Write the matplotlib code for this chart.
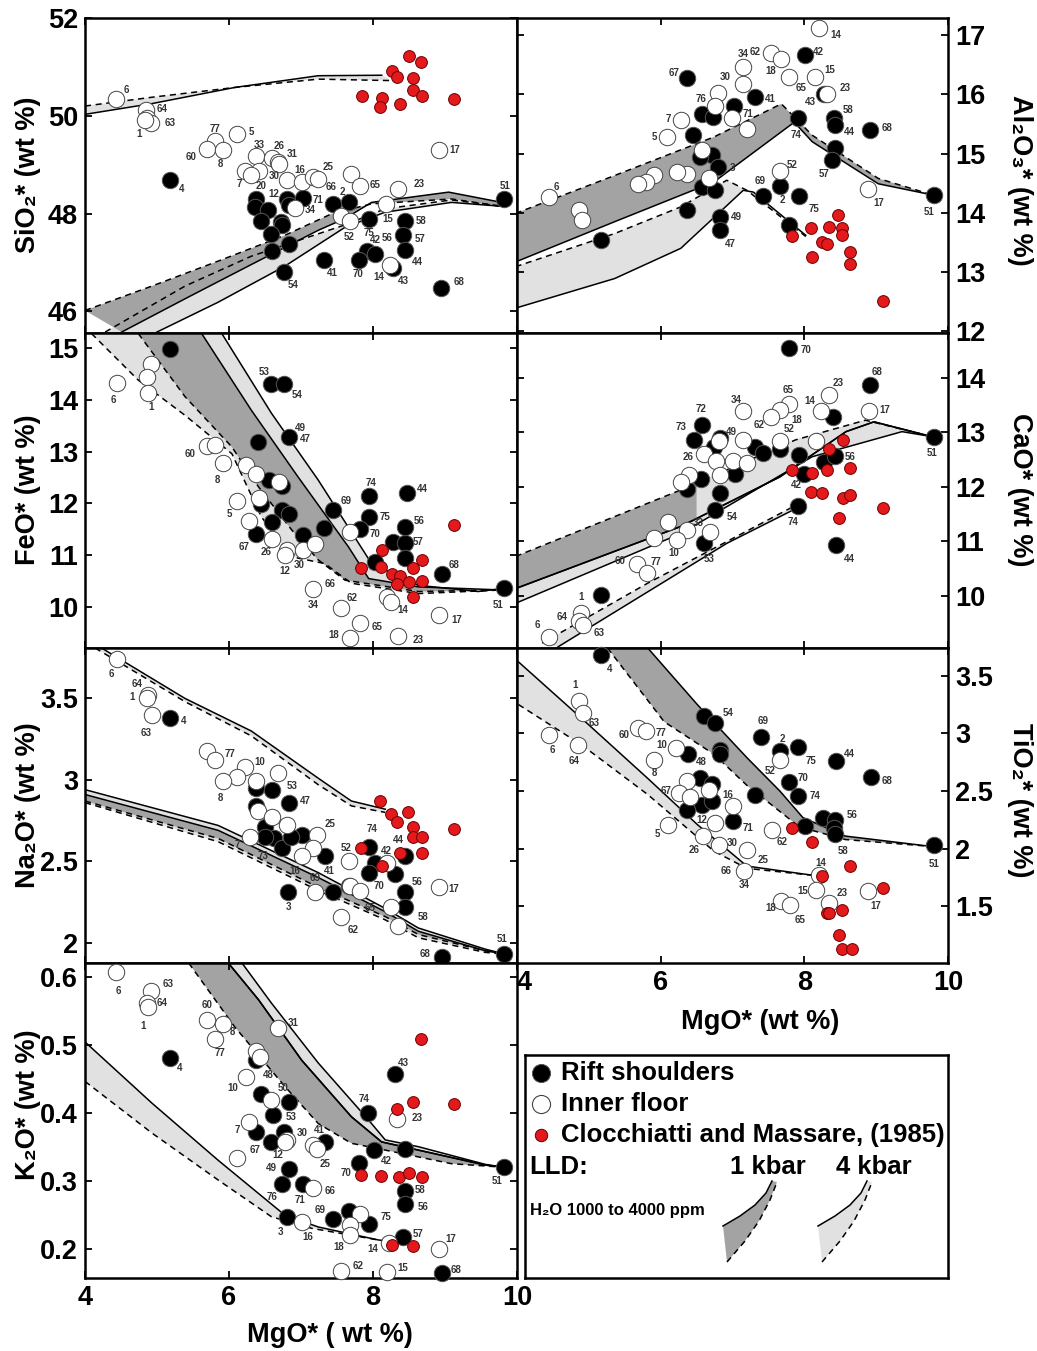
import numpy as np
import matplotlib
matplotlib.use("Agg")
import matplotlib.pyplot as plt

plt.rcParams["font.family"] = ["Liberation Sans", "DejaVu Sans"]
plt.rcParams["font.weight"] = "bold"

DARK = "#a3a3a3"
LIGHT = "#e1e1e1"
RED = "#e3191c"

# ---------------- SiO2 panel ----------------
SIO2_BLACK = [(5.18, 48.69), (6.37, 48.30), (6.36, 48.13), (6.54, 48.08), (6.45, 47.85), (6.72, 47.83),
              (6.74, 47.77), (6.58, 47.58), (6.83, 47.38), (6.60, 47.23), (6.80, 48.30), (6.83, 48.18),
              (7.03, 48.32), (7.44, 48.20), (7.67, 48.23), (7.94, 47.90), (7.91, 47.23), (8.03, 47.18),
              (7.32, 47.06), (7.80, 47.06), (6.76, 46.81), (8.44, 47.85), (8.42, 47.56), (8.45, 47.26),
              (8.28, 46.89), (8.95, 46.49), (9.82, 48.29)]
SIO2_WHITE = [(4.43, 50.35), (4.85, 50.11), (4.86, 49.95), (4.92, 49.86), (4.83, 49.91), (5.81, 49.48),
              (5.69, 49.33), (5.91, 49.31), (6.11, 49.62), (6.38, 49.17), (6.60, 49.13), (6.68, 49.06),
              (6.69, 49.01), (6.22, 48.87), (6.41, 48.87), (6.30, 48.80), (6.80, 48.69), (7.01, 48.64),
              (7.17, 48.74), (7.23, 48.71), (7.69, 48.81), (7.82, 48.57), (8.35, 48.50), (8.18, 48.20),
              (6.92, 48.12), (7.56, 47.95), (7.68, 47.85), (8.24, 46.96), (8.91, 49.30)]
SIO2_RED = [(8.50, 51.22), (8.67, 51.10), (8.26, 50.92), (8.34, 50.79), (8.56, 50.77), (8.56, 50.53),
            (8.68, 50.40), (7.85, 50.40), (8.13, 50.36), (8.10, 50.18), (8.38, 50.25), (9.12, 50.35)]
SIO2_LABELS = [("6", 4.58, 50.52), ("64", 5.07, 50.13), ("63", 5.18, 49.86), ("1", 4.75, 49.62),
               ("77", 5.80, 49.73), ("5", 6.31, 49.66), ("60", 5.48, 49.15), ("8", 5.88, 49.02),
               ("33", 6.42, 49.41), ("26", 6.69, 49.38), ("31", 6.88, 49.21), ("16", 6.99, 48.89),
               ("25", 7.38, 48.95), ("7", 6.14, 48.60), ("30", 6.63, 48.77), ("20", 6.44, 48.56),
               ("12", 6.62, 48.40), ("71", 7.23, 48.27), ("66", 7.42, 48.55), ("2", 7.57, 48.44),
               ("34", 7.13, 48.07), ("65", 8.03, 48.58), ("23", 8.64, 48.60), ("51", 9.83, 48.57),
               ("17", 9.13, 49.30), ("4", 5.34, 48.50), ("15", 8.21, 47.90), ("58", 8.67, 47.85),
               ("52", 7.67, 47.52), ("75", 7.94, 47.61), ("42", 8.03, 47.46), ("56", 8.19, 47.50),
               ("57", 8.65, 47.48), ("44", 8.61, 47.01), ("41", 7.43, 46.78), ("70", 7.79, 46.76),
               ("14", 8.08, 46.71), ("43", 8.42, 46.62), ("54", 6.89, 46.54), ("68", 9.19, 46.60)]
SIO2_TOP_SOLID = [(4.0, 50.03), (4.93, 50.25), (6.08, 50.58), (7.24, 50.82), (8.12, 50.83)]
SIO2_TOP_DASH = [(4.0, 50.20), (4.93, 50.38), (6.08, 50.58), (7.24, 50.75), (8.26, 50.72)]
SIO2_1K_DASH = [(4.0, 46.02), (4.93, 46.52), (5.85, 47.03), (6.78, 47.56), (7.43, 48.0), (7.98, 48.20),
                (9.09, 48.30), (9.79, 48.15)]
SIO2_1K_SOLID = [(4.51, 45.58), (5.39, 46.26), (6.31, 46.96), (7.24, 47.66), (7.61, 47.90), (7.98, 48.23),
                 (9.05, 48.44), (9.79, 48.23)]
SIO2_4K_DASH = [(4.28, 45.58), (5.39, 46.52), (6.31, 47.13), (7.61, 47.77), (8.17, 48.10), (9.09, 48.28),
                (9.79, 48.15)]
SIO2_4K_SOLID = [(5.0, 45.58), (5.85, 46.19), (6.78, 46.93), (7.61, 47.72), (8.17, 48.03), (9.09, 48.23),
                 (9.79, 48.15)]

# ---------------- Al2O3 panel ----------------
AL_BLACK = [(6.37, 16.28), (8.01, 16.66), (7.32, 15.96), (7.02, 15.80), (6.57, 15.67), (6.73, 15.62),
            (6.45, 15.32), (6.71, 14.97), (6.55, 14.94), (6.80, 14.78), (6.57, 14.44), (6.76, 14.38),
            (6.37, 14.04), (5.17, 13.54), (6.82, 13.93), (6.83, 13.71), (7.43, 14.29), (7.66, 14.46),
            (7.92, 14.29), (7.78, 13.80), (7.91, 15.60), (8.41, 15.60), (8.43, 15.49), (8.43, 15.10),
            (8.39, 14.90), (8.92, 15.39), (9.81, 14.30), (8.27, 16.00)]
AL_WHITE = [(8.21, 17.12), (7.54, 16.70), (7.68, 16.59), (7.15, 16.46), (7.15, 16.18), (6.80, 16.03),
            (6.76, 15.81), (6.99, 15.60), (7.20, 15.41), (6.28, 15.56), (6.09, 15.28), (7.79, 16.29),
            (8.15, 16.29), (8.32, 16.01), (6.57, 15.06), (6.67, 14.58), (6.37, 14.65), (6.23, 14.69),
            (5.91, 14.63), (5.79, 14.52), (5.68, 14.49), (7.66, 14.70), (4.44, 14.27), (4.87, 14.04),
            (4.90, 13.88), (8.89, 14.41)]
AL_RED = [(8.47, 13.97), (8.09, 13.74), (8.35, 13.76), (8.53, 13.75), (8.53, 13.62), (7.83, 13.60),
          (8.24, 13.50), (8.31, 13.48), (8.11, 13.26), (8.64, 13.33), (8.64, 13.13), (9.09, 12.51)]
AL_LABELS = [("14", 8.44, 17.01), ("34", 7.15, 16.69), ("62", 7.32, 16.72), ("42", 8.20, 16.71),
             ("18", 7.53, 16.39), ("15", 8.36, 16.42), ("67", 6.18, 16.36), ("30", 6.90, 16.29),
             ("65", 7.95, 16.10), ("23", 8.57, 16.11), ("76", 6.56, 15.93), ("41", 7.52, 15.92),
             ("43", 8.09, 15.87), ("58", 8.61, 15.73), ("7", 6.11, 15.59), ("71", 7.22, 15.67),
             ("68", 9.15, 15.43), ("44", 8.63, 15.37), ("5", 5.91, 15.28), ("74", 7.89, 15.31),
             ("52", 7.83, 14.80), ("3", 7.00, 14.75), ("57", 8.28, 14.65), ("69", 7.38, 14.53),
             ("6", 4.55, 14.44), ("2", 7.69, 14.21), ("17", 9.03, 14.16), ("75", 8.14, 14.06),
             ("51", 9.73, 14.02), ("49", 7.05, 13.93), ("47", 6.97, 13.47)]
AL_1K_DASH = [(3.98, 13.99), (5.36, 14.63), (6.74, 15.28), (7.68, 15.84), (8.11, 15.31), (9.03, 14.58),
              (9.79, 14.30)]
AL_1K_SOLID = [(3.98, 13.17), (5.36, 13.85), (6.74, 14.52), (7.86, 15.53), (8.11, 15.20), (9.03, 14.49),
               (9.79, 14.30)]
AL_4K_DASH = [(3.98, 13.09), (5.36, 13.65), (6.28, 14.10), (6.92, 14.55), (7.20, 14.38), (8.02, 13.60)]
AL_4K_SOLID = [(3.98, 12.39), (5.36, 12.89), (6.28, 13.40), (7.15, 14.38), (7.29, 14.35), (8.02, 13.62)]

# ---------------- FeO panel ----------------
FEO_BLACK = [(5.18, 14.99), (6.59, 14.30), (6.77, 14.30), (6.83, 13.29), (6.40, 13.18), (6.55, 12.46),
             (6.73, 12.33), (6.45, 11.99), (6.73, 11.88), (6.83, 11.79), (6.60, 11.65), (6.38, 11.41),
             (7.03, 11.39), (7.32, 11.53), (7.45, 11.88), (7.94, 12.14), (7.94, 11.74), (7.82, 11.50),
             (8.28, 11.25), (8.44, 11.23), (8.45, 11.55), (8.47, 12.21), (8.44, 10.94), (8.03, 10.87),
             (8.96, 10.63), (9.82, 10.36)]
FEO_WHITE = [(4.44, 14.32), (4.92, 14.70), (4.86, 14.44), (4.88, 14.14), (5.69, 13.11), (5.81, 13.13),
             (5.92, 12.78), (6.23, 12.75), (6.37, 12.57), (6.69, 12.42), (6.41, 12.10), (6.11, 12.05),
             (6.28, 11.66), (6.60, 11.31), (6.80, 11.11), (6.78, 11.00), (7.03, 11.11), (7.20, 11.21),
             (7.68, 11.44), (7.17, 10.34), (7.56, 9.99), (7.82, 9.70), (7.68, 9.41), (8.19, 10.19),
             (8.25, 10.10), (8.35, 9.44), (8.92, 9.85)]
FEO_RED = [(9.12, 11.59), (8.13, 11.11), (8.68, 10.91), (7.84, 10.75), (8.11, 10.77), (8.56, 10.75),
           (8.26, 10.64), (8.38, 10.60), (8.68, 10.51), (8.33, 10.44), (8.50, 10.48), (8.56, 10.20)]
FEO_LABELS = [("6", 4.39, 13.99), ("1", 4.92, 13.86), ("53", 6.49, 14.54), ("54", 6.94, 14.10),
              ("49", 6.99, 13.45), ("47", 7.06, 13.25), ("60", 5.46, 12.95), ("8", 5.84, 12.46),
              ("5", 6.01, 11.79), ("69", 7.62, 12.05), ("74", 7.98, 12.39), ("44", 8.69, 12.28),
              ("75", 8.16, 11.73), ("56", 8.64, 11.67), ("70", 8.03, 11.42), ("57", 8.63, 11.26),
              ("67", 6.21, 11.16), ("26", 6.52, 11.07), ("30", 6.97, 10.81), ("12", 6.78, 10.70),
              ("68", 9.13, 10.82), ("66", 7.40, 10.44), ("51", 9.74, 10.04), ("34", 7.17, 10.04),
              ("62", 7.71, 10.18), ("14", 8.41, 9.94), ("17", 9.16, 9.76), ("65", 8.06, 9.62),
              ("18", 7.46, 9.46), ("23", 8.63, 9.36)]
FEO_4K_DASH = [(4.09, 15.28), (4.74, 14.38), (5.39, 13.70), (6.04, 12.96), (6.45, 11.74), (6.87, 10.97),
               (7.33, 10.84), (7.70, 10.46), (8.63, 10.26), (9.79, 10.33)]
FEO_4K_SOLID = [(5.90, 15.28), (6.59, 13.74), (7.24, 12.45), (7.98, 10.84), (8.63, 10.42), (9.46, 10.30),
                (9.81, 10.36)]
FEO_1K_DASH = [(4.74, 15.28), (5.39, 14.06), (6.04, 13.09), (6.41, 12.32), (6.87, 11.49), (7.24, 10.91),
               (7.61, 10.52), (8.63, 10.30), (9.79, 10.33)]
FEO_1K_SOLID = [(5.62, 15.28), (6.31, 13.80), (6.96, 12.51), (7.66, 11.16), (7.94, 10.55), (8.63, 10.39),
                (9.79, 10.33)]

# ---------------- CaO panel ----------------
CAO_BLACK = [(7.79, 14.54), (8.92, 13.87), (9.81, 12.92), (8.40, 13.28), (6.57, 13.13), (6.46, 12.86),
             (6.83, 12.89), (6.74, 12.73), (7.32, 12.73), (7.43, 12.62), (7.66, 12.69), (7.92, 12.58),
             (8.28, 12.46), (8.43, 12.56), (8.00, 12.24), (7.03, 12.23), (6.56, 12.15), (6.37, 11.95),
             (6.83, 11.88), (6.76, 11.57), (6.60, 10.96), (7.91, 11.65), (8.44, 10.93), (5.17, 10.01)]
CAO_WHITE = [(7.15, 13.38), (7.78, 13.52), (7.66, 13.41), (7.54, 13.28), (8.35, 13.68), (8.23, 13.38),
             (8.90, 13.38), (7.15, 12.86), (7.66, 12.84), (8.16, 12.83), (6.81, 12.83), (6.60, 12.60),
             (6.77, 12.48), (7.00, 12.48), (7.20, 12.44), (6.82, 12.21), (6.40, 12.21), (6.28, 12.09),
             (6.10, 11.36), (6.37, 11.20), (6.23, 11.02), (6.68, 11.17), (5.91, 11.05), (5.67, 10.59),
             (5.81, 10.41), (4.89, 9.69), (4.86, 9.54), (4.92, 9.46), (4.44, 9.25)]
CAO_RED = [(8.54, 12.86), (8.34, 12.69), (7.83, 12.31), (8.11, 12.26), (8.31, 12.31), (8.64, 12.35),
           (8.09, 11.91), (8.24, 11.88), (8.54, 11.79), (8.64, 11.85), (9.09, 11.60), (8.48, 11.42)]
CAO_LABELS = [("70", 8.02, 14.51), ("68", 9.01, 14.11), ("23", 8.47, 13.91), ("65", 7.77, 13.77),
              ("34", 7.05, 13.59), ("14", 8.07, 13.58), ("72", 6.56, 13.42), ("17", 9.12, 13.41),
              ("18", 7.89, 13.22), ("62", 7.37, 13.14), ("73", 6.28, 13.09), ("52", 7.79, 13.05),
              ("49", 6.99, 13.01), ("51", 9.78, 12.62), ("26", 6.38, 12.54), ("56", 8.64, 12.54),
              ("42", 7.89, 12.03), ("54", 6.99, 11.44), ("74", 7.85, 11.36), ("33", 6.52, 11.33),
              ("60", 5.44, 10.64), ("10", 6.18, 10.78), ("77", 5.93, 10.62), ("53", 6.67, 10.67),
              ("44", 8.63, 10.68), ("1", 4.89, 9.97), ("64", 4.63, 9.61), ("6", 4.29, 9.46),
              ("63", 5.14, 9.31)]
CAO_1K_DASH = [(3.98, 10.72), (6.28, 11.94), (7.88, 12.86), (8.85, 13.22), (9.77, 12.92)]
CAO_1K_SOLID = [(3.98, 10.13), (6.28, 11.27), (7.66, 12.18), (8.58, 13.01), (8.97, 13.19), (9.77, 12.92)]
CAO_UP_SOLID = [(3.98, 9.86), (6.28, 11.14), (8.11, 12.55), (9.36, 13.01), (9.77, 12.92)]
CAO_4K_DASH = [(4.35, 9.13), (5.82, 10.23), (7.84, 11.63)]
CAO_4K_SOLID = [(4.57, 9.06), (6.92, 10.96), (7.84, 11.57)]

# ---------------- Na2O panel ----------------
NA_BLACK = [(5.18, 3.38), (6.37, 2.95), (6.60, 2.94), (6.83, 2.86), (6.38, 2.84), (6.50, 2.71),
            (6.62, 2.64), (6.50, 2.65), (6.73, 2.58), (7.02, 2.66), (6.86, 2.65), (7.33, 2.53),
            (7.94, 2.59), (8.03, 2.49), (7.94, 2.43), (8.31, 2.42), (8.44, 2.53), (6.82, 2.31),
            (7.45, 2.31), (8.45, 2.31), (8.45, 2.22), (7.67, 2.35), (8.96, 1.91), (9.82, 1.93)]
NA_WHITE = [(4.44, 3.74), (4.88, 3.52), (4.86, 3.50), (4.93, 3.40), (5.69, 3.18), (5.81, 3.12),
            (6.22, 3.08), (6.11, 3.02), (5.91, 2.99), (6.68, 3.04), (6.38, 2.99), (6.40, 2.81),
            (6.60, 2.77), (6.80, 2.72), (6.29, 2.65), (7.22, 2.66), (7.17, 2.58), (7.02, 2.53),
            (7.66, 2.50), (7.19, 2.31), (7.68, 2.35), (7.82, 2.32), (8.19, 2.49), (8.91, 2.34),
            (8.25, 2.22), (8.35, 2.10), (7.56, 2.16)]
NA_RED = [(8.10, 2.87), (8.25, 2.79), (8.49, 2.80), (8.34, 2.74), (8.56, 2.71), (8.56, 2.65),
          (8.68, 2.65), (9.12, 2.70), (7.84, 2.58), (8.38, 2.55), (8.68, 2.55), (8.13, 2.47)]
NA_LABELS = [("6", 4.36, 3.65), ("64", 4.72, 3.59), ("1", 4.66, 3.51), ("63", 4.85, 3.29),
             ("4", 5.37, 3.36), ("77", 6.01, 3.16), ("10", 6.43, 3.11), ("8", 5.88, 2.89),
             ("53", 6.88, 2.96), ("47", 7.06, 2.87), ("25", 7.40, 2.73), ("74", 7.99, 2.70),
             ("7", 6.12, 2.60), ("44", 8.35, 2.63), ("52", 7.63, 2.58), ("73", 6.48, 2.53),
             ("42", 8.18, 2.56), ("16", 6.91, 2.44), ("41", 7.39, 2.44), ("69", 7.19, 2.40),
             ("56", 8.61, 2.37), ("70", 8.08, 2.35), ("17", 9.12, 2.33), ("3", 6.83, 2.22),
             ("65", 7.96, 2.21), ("58", 8.69, 2.16), ("62", 7.73, 2.08), ("51", 9.79, 2.02),
             ("68", 8.73, 1.93)]
NA_UP_SOLID = [(4.23, 3.81), (5.39, 3.50), (6.31, 3.30), (7.24, 3.01), (7.70, 2.87), (8.17, 2.82)]
NA_UP_DASH = [(4.14, 3.81), (5.39, 3.48), (6.31, 3.27), (7.24, 2.97), (7.70, 2.84), (8.17, 2.80)]
NA_4K_SOLID = [(4.0, 2.94), (5.85, 2.72), (7.24, 2.43), (8.17, 2.21), (8.63, 2.09), (9.56, 1.96), (9.83, 1.93)]
NA_4K_DASH = [(4.0, 2.86), (5.85, 2.62), (7.24, 2.32), (8.17, 2.14), (8.63, 2.03), (9.56, 1.94), (9.83, 1.93)]
NA_1K_SOLID = [(4.0, 2.91), (5.85, 2.69), (7.24, 2.40), (8.17, 2.19), (8.63, 2.07), (9.56, 1.95), (9.83, 1.93)]
NA_1K_DASH = [(4.0, 2.87), (5.85, 2.64), (7.24, 2.34), (8.17, 2.16), (8.63, 2.05), (9.56, 1.95), (9.83, 1.93)]

# ---------------- TiO2 panel ----------------
TI_BLACK = [(5.17, 3.68), (6.60, 3.15), (6.75, 3.09), (6.83, 2.86), (6.83, 2.82), (7.40, 2.97),
            (7.66, 2.85), (7.91, 2.88), (8.44, 2.76), (8.93, 2.62), (7.78, 2.58), (7.91, 2.46),
            (6.38, 2.82), (6.55, 2.61), (6.71, 2.56), (6.57, 2.38), (6.72, 2.41), (6.37, 2.34),
            (7.01, 2.24), (7.31, 2.47), (8.01, 2.20), (8.26, 2.27), (8.43, 2.25), (8.41, 2.18),
            (8.43, 2.13), (9.81, 2.03)]
TI_WHITE = [(4.87, 3.28), (4.92, 3.18), (4.44, 2.99), (4.85, 2.90), (5.69, 3.05), (5.80, 3.02),
            (6.22, 2.87), (5.91, 2.77), (6.37, 2.59), (6.25, 2.48), (6.41, 2.45), (6.67, 2.51),
            (7.00, 2.37), (7.66, 2.77), (6.76, 2.22), (6.10, 2.21), (6.59, 2.11), (6.81, 2.03),
            (7.20, 1.99), (7.16, 1.81), (7.55, 2.16), (8.20, 1.77), (8.16, 1.64), (8.34, 1.53),
            (8.89, 1.63), (7.68, 1.55), (7.80, 1.51)]
TI_RED = [(7.83, 2.18), (8.11, 2.06), (8.64, 1.85), (8.24, 1.76), (9.09, 1.66), (8.53, 1.47),
          (8.32, 1.44), (8.35, 1.44), (8.48, 1.25), (8.53, 1.13), (8.66, 1.13)]
TI_LABELS = [("4", 5.29, 3.56), ("1", 4.81, 3.42), ("54", 6.94, 3.18), ("69", 7.42, 3.11),
             ("63", 5.08, 3.09), ("60", 5.49, 2.99), ("77", 6.00, 3.00), ("2", 7.69, 2.95),
             ("10", 6.02, 2.90), ("6", 4.49, 2.86), ("44", 8.63, 2.82), ("75", 8.09, 2.76),
             ("64", 4.80, 2.76), ("48", 6.56, 2.75), ("52", 7.52, 2.67), ("8", 5.92, 2.66),
             ("70", 7.98, 2.61), ("68", 9.15, 2.59), ("67", 6.07, 2.50), ("16", 6.94, 2.47),
             ("74", 8.15, 2.46), ("56", 8.66, 2.29), ("12", 6.57, 2.25), ("71", 7.22, 2.18),
             ("5", 5.95, 2.13), ("62", 7.69, 2.06), ("30", 7.00, 2.05), ("26", 6.46, 1.99),
             ("58", 8.54, 1.98), ("25", 7.43, 1.90), ("14", 8.23, 1.88), ("51", 9.81, 1.87),
             ("66", 6.91, 1.81), ("34", 7.17, 1.69), ("15", 7.98, 1.63), ("23", 8.53, 1.62),
             ("17", 8.99, 1.50), ("18", 7.53, 1.49), ("65", 7.94, 1.38)]
TI_1K_DASH = [(5.26, 3.74), (6.05, 3.10), (6.74, 2.82), (7.20, 2.55), (7.93, 2.19), (8.57, 2.08), (9.77, 2.02)]
TI_1K_SOLID = [(5.82, 3.74), (6.51, 3.25), (7.20, 2.79), (7.66, 2.50), (7.98, 2.27), (8.57, 2.11), (9.77, 2.02)]
TI_4K_SOLID = [(4.02, 3.62), (4.90, 3.13), (5.82, 2.61), (6.51, 2.21), (7.20, 1.85), (8.12, 1.77)]
TI_4K_DASH = [(4.02, 3.25), (4.90, 2.90), (5.82, 2.47), (6.74, 1.98), (7.20, 1.83), (8.12, 1.77)]

# ---------------- K2O panel ----------------
K_BLACK = [(5.18, 0.481), (6.37, 0.478), (6.45, 0.428), (6.83, 0.417), (6.61, 0.398), (6.37, 0.372),
           (6.77, 0.373), (6.58, 0.358), (7.33, 0.358), (6.83, 0.318), (6.73, 0.296), (7.03, 0.296),
           (7.93, 0.400), (8.30, 0.458), (8.02, 0.346), (8.45, 0.347), (7.81, 0.327), (8.44, 0.286),
           (8.45, 0.267), (7.67, 0.257), (7.94, 0.238), (7.45, 0.244), (6.81, 0.247), (8.42, 0.218),
           (8.96, 0.165), (9.82, 0.321)]
K_WHITE = [(4.43, 0.608), (4.92, 0.580), (4.86, 0.562), (4.88, 0.557), (5.69, 0.537), (5.91, 0.531),
           (5.81, 0.510), (6.68, 0.525), (6.37, 0.491), (6.43, 0.483), (6.24, 0.453), (6.59, 0.420),
           (6.28, 0.388), (6.80, 0.361), (6.78, 0.358), (7.17, 0.353), (7.22, 0.347), (6.11, 0.335),
           (7.17, 0.290), (7.02, 0.241), (7.82, 0.252), (7.68, 0.236), (7.68, 0.221), (8.22, 0.210),
           (8.34, 0.391), (8.92, 0.201), (7.56, 0.169), (8.19, 0.167)]
K_RED = [(8.67, 0.509), (8.56, 0.417), (9.12, 0.414), (8.33, 0.406), (7.84, 0.309), (8.11, 0.308),
         (8.36, 0.306), (8.50, 0.312), (8.68, 0.306), (8.26, 0.206), (8.56, 0.205)]
K_LABELS = [("6", 4.47, 0.580), ("63", 5.15, 0.590), ("64", 5.07, 0.562), ("1", 4.80, 0.528),
            ("60", 5.69, 0.560), ("31", 6.89, 0.533), ("8", 6.05, 0.519), ("77", 5.88, 0.489),
            ("4", 5.32, 0.466), ("43", 8.42, 0.474), ("48", 6.55, 0.456), ("10", 6.05, 0.438),
            ("50", 6.75, 0.438), ("74", 7.88, 0.421), ("53", 6.86, 0.394), ("23", 8.61, 0.393),
            ("41", 7.26, 0.376), ("7", 6.12, 0.375), ("30", 7.01, 0.371), ("67", 6.36, 0.346),
            ("12", 6.68, 0.339), ("42", 8.18, 0.330), ("25", 7.34, 0.325), ("49", 6.59, 0.319),
            ("70", 7.63, 0.313), ("51", 9.73, 0.300), ("66", 7.40, 0.286), ("58", 8.65, 0.287),
            ("76", 6.60, 0.277), ("71", 6.99, 0.273), ("56", 8.70, 0.262), ("69", 7.26, 0.258),
            ("75", 8.18, 0.248), ("57", 8.63, 0.223), ("3", 6.71, 0.225), ("17", 9.08, 0.215),
            ("16", 7.09, 0.218), ("14", 8.00, 0.201), ("18", 7.52, 0.204), ("62", 7.79, 0.175),
            ("15", 8.42, 0.172), ("68", 9.16, 0.170)]
K_1K_DASH = [(5.44, 0.621), (6.08, 0.527), (6.78, 0.439), (7.24, 0.385), (7.70, 0.356), (8.17, 0.346),
             (9.09, 0.326), (9.79, 0.321)]
K_1K_SOLID = [(5.99, 0.621), (6.41, 0.567), (7.01, 0.478), (7.70, 0.395), (8.12, 0.358), (8.63, 0.346),
              (9.56, 0.324), (9.81, 0.321)]
K_UP_SOLID = [(6.18, 0.621), (6.59, 0.562), (7.24, 0.474), (7.94, 0.390), (8.17, 0.361), (8.63, 0.351),
              (9.56, 0.325), (9.81, 0.321)]
K_4K_SOLID = [(4.0, 0.505), (4.93, 0.415), (5.85, 0.331), (6.78, 0.250), (7.24, 0.233), (8.07, 0.214),
              (8.44, 0.209)]
K_4K_DASH = [(4.0, 0.447), (4.93, 0.371), (5.85, 0.302), (6.59, 0.248), (7.15, 0.231), (8.07, 0.214)]


def band(ax, edge_a, edge_b, color, style_a="-", style_b="--", fade_from=None):
    a = np.array(edge_a)
    b = np.array(edge_b)
    poly = np.vstack([a, b[::-1]])
    ax.fill(poly[:, 0], poly[:, 1], color=color, lw=0, zorder=1)
    if fade_from is not None:
        # the darker fill only reaches part way, the rest of the band is pale
        xs = np.linspace(fade_from, min(a[-1, 0], b[-1, 0]), 60)
        ya = np.interp(xs, a[:, 0], a[:, 1])
        yb = np.interp(xs, b[:, 0], b[:, 1])
        ax.fill(np.r_[xs, xs[::-1]], np.r_[ya, yb[::-1]], color=LIGHT, lw=0, zorder=1)
    for e, st in ((a, style_a), (b, style_b)):
        ln, = ax.plot(e[:, 0], e[:, 1], color="black", lw=1.1, ls=st, zorder=2)
        if st == "--":
            ln.set_dashes((4, 3))


def points(ax, black, white, red, labels):
    for pts, fc, ec, s, z in ((black, "black", "#555555", 140, 3),
                              (white, "white", "#444444", 140, 4),
                              (red, RED, "#6b0000", 72, 5)):
        p = np.array(pts)
        ax.scatter(p[:, 0], p[:, 1], s=s, c=fc, edgecolors=ec, linewidths=0.7,
                   zorder=z, clip_on=False)
    for txt, x, y in labels:
        ax.text(x, y, txt, fontsize=7, color="#333333", ha="center", va="center", zorder=6)


def style_axes(ax, ylim, yticks, right=False, xlabels=False):
    ax.set_xlim(4, 10)
    ax.set_ylim(*ylim)
    ax.set_xticks([4, 6, 8, 10])
    ax.set_yticks(yticks)
    ax.set_yticklabels([f"{t:g}" for t in yticks])
    ax.tick_params(direction="in", length=5, width=1.3, top=True, bottom=True, left=True, right=True,
                   labelleft=not right, labelright=right, labelbottom=xlabels, labelsize=19.5, pad=5)
    for sp in ax.spines.values():
        sp.set_linewidth(1.8)


fig = plt.figure(figsize=(10.37, 13.51), dpi=100)
W, H = 1037, 1351


def add_ax(x0, y0, x1, y1):
    return fig.add_axes([x0 / W, 1 - y1 / H, (x1 - x0) / W, (y1 - y0) / H])


ax1 = add_ax(85, 18, 517, 333)
band(ax1, SIO2_TOP_SOLID, SIO2_TOP_DASH, LIGHT)
band(ax1, SIO2_4K_SOLID, SIO2_4K_DASH, LIGHT)
band(ax1, SIO2_1K_SOLID, SIO2_1K_DASH, DARK)
points(ax1, SIO2_BLACK, SIO2_WHITE, SIO2_RED, SIO2_LABELS)
style_axes(ax1, (45.56, 52.0), [46, 48, 50, 52])

ax2 = add_ax(517, 18, 948, 333)
band(ax2, AL_4K_SOLID, AL_4K_DASH, LIGHT)
band(ax2, AL_1K_SOLID, AL_1K_DASH, DARK)
points(ax2, AL_BLACK, AL_WHITE, AL_RED, AL_LABELS)
style_axes(ax2, (11.97, 17.29), [12, 13, 14, 15, 16, 17], right=True)

ax3 = add_ax(85, 333, 517, 648)
band(ax3, FEO_4K_SOLID, FEO_4K_DASH, LIGHT)
band(ax3, FEO_1K_SOLID, FEO_1K_DASH, DARK)
points(ax3, FEO_BLACK, FEO_WHITE, FEO_RED, FEO_LABELS)
style_axes(ax3, (9.21, 15.29), [10, 11, 12, 13, 14, 15])

ax4 = add_ax(517, 333, 948, 648)
band(ax4, CAO_4K_SOLID, CAO_4K_DASH, LIGHT)
band(ax4, CAO_UP_SOLID, CAO_1K_SOLID, LIGHT, "-", "-")
band(ax4, CAO_1K_SOLID, CAO_1K_DASH, DARK, fade_from=6.5)
points(ax4, CAO_BLACK, CAO_WHITE, CAO_RED, CAO_LABELS)
style_axes(ax4, (9.04, 14.82), [10, 11, 12, 13, 14], right=True)

ax5 = add_ax(85, 648, 517, 963)
band(ax5, NA_UP_SOLID, NA_UP_DASH, LIGHT)
band(ax5, NA_4K_SOLID, NA_4K_DASH, LIGHT)
band(ax5, NA_1K_SOLID, NA_1K_DASH, DARK)
points(ax5, NA_BLACK, NA_WHITE, NA_RED, NA_LABELS)
style_axes(ax5, (1.875, 3.81), [2, 2.5, 3, 3.5])

ax6 = add_ax(517, 648, 948, 963)
band(ax6, TI_4K_SOLID, TI_4K_DASH, LIGHT)
band(ax6, TI_1K_SOLID, TI_1K_DASH, DARK)
points(ax6, TI_BLACK, TI_WHITE, TI_RED, TI_LABELS)
style_axes(ax6, (1.01, 3.74), [1.5, 2, 2.5, 3, 3.5], right=True, xlabels=True)
ax6.get_xticklabels()[0].set_ha("left")

ax7 = add_ax(85, 963, 517, 1278)
band(ax7, K_4K_SOLID, K_4K_DASH, LIGHT)
band(ax7, K_UP_SOLID, K_1K_SOLID, LIGHT, "-", "-")
band(ax7, K_1K_SOLID, K_1K_DASH, DARK)
points(ax7, K_BLACK, K_WHITE, K_RED, K_LABELS)
style_axes(ax7, (0.158, 0.621), [0.2, 0.3, 0.4, 0.5, 0.6], xlabels=True)

# axis titles
lab = dict(fontsize=19.5, fontweight="bold", ha="center", va="center")
fig.text(28 / W, 1 - 175 / H, "SiO₂* (wt %)", rotation=90, **lab)
fig.text(28 / W, 1 - 490 / H, "FeO* (wt %)", rotation=90, **lab)
fig.text(28 / W, 1 - 805 / H, "Na₂O* (wt %)", rotation=90, **lab)
fig.text(28 / W, 1 - 1105 / H, "K₂O* (wt %)", rotation=90, **lab)
fig.text(1020 / W, 1 - 180 / H, "Al₂O₃* (wt %)", rotation=-90, **lab)
fig.text(1020 / W, 1 - 490 / H, "CaO* (wt %)", rotation=-90, **lab)
fig.text(1020 / W, 1 - 800 / H, "TiO₂* (wt %)", rotation=-90, **lab)
fig.text(760 / W, 1 - 1022 / H, "MgO* (wt %)", **lab)
fig.text(330 / W, 1 - 1335 / H, "MgO* ( wt %)", **lab)

# legend box
lg = add_ax(525, 1055, 948, 1278)
lg.set_xlim(525, 948)
lg.set_ylim(1278, 1055)
lg.set_xticks([])
lg.set_yticks([])
for sp in lg.spines.values():
    sp.set_linewidth(1.8)
lg.scatter([541], [1073], s=170, c="black", edgecolors="#555555", lw=0.7)
lg.scatter([541], [1104], s=170, c="white", edgecolors="#444444", lw=0.8)
lg.scatter([541], [1135], s=80, c=RED, edgecolors="#6b0000", lw=0.7)
lt = dict(fontsize=18.5, fontweight="bold", va="center", ha="left")
lg.text(561, 1073, "Rift shoulders", **lt)
lg.text(561, 1104, "Inner floor", **lt)
lg.text(561, 1135, "Clocchiatti and Massare, (1985)", **lt)
lg.text(529, 1167, "LLD:", **lt)
lg.text(730, 1167, "1 kbar", **lt)
lg.text(836, 1167, "4 kbar", **lt)
lg.text(530, 1211, "H₂O 1000 to 4000 ppm", fontsize=12, fontweight="bold", va="center", ha="left")
for dx, col in ((0, DARK), (95, LIGHT)):
    sol = np.array([(723, 1226), (740, 1216), (755, 1205), (766, 1193), (772, 1181)]) + [dx, 0]
    das = np.array([(727, 1262), (745, 1241), (759, 1221), (770, 1200), (777, 1182)]) + [dx, 0]
    poly = np.vstack([sol, das[::-1]])
    lg.fill(poly[:, 0], poly[:, 1], color=col, lw=0)
    lg.plot(sol[:, 0], sol[:, 1], color="black", lw=1.1)
    ln, = lg.plot(das[:, 0], das[:, 1], color="black", lw=1.1, ls="--")
    ln.set_dashes((4, 3))

fig.savefig("out.png", dpi=100)
